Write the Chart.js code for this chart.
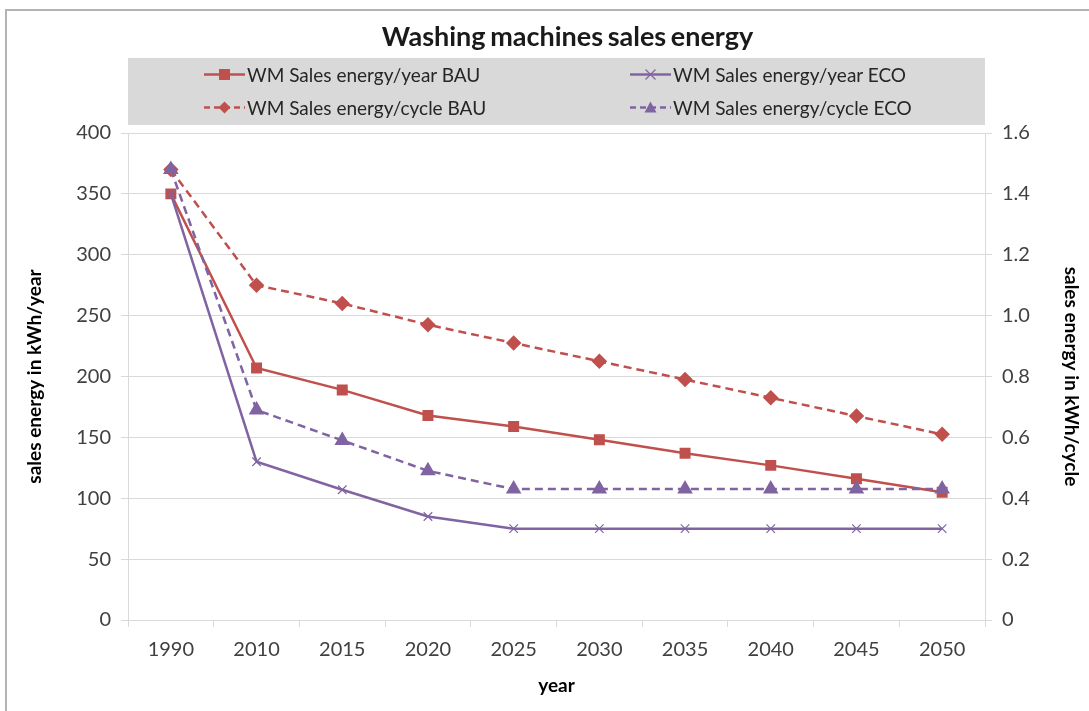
<!DOCTYPE html>
<html lang="en">
<head>
  <meta charset="UTF-8" />
  <title>Washing machines sales energy</title>
  <script src="https://cdn.jsdelivr.net/npm/chart.js"></script>
  <style>
    * { margin: 0; padding: 0; box-sizing: border-box; }
    body {
      width: 1089px;
      height: 711px;
      background: #fff;
      font-family: 'Lato', sans-serif;
      overflow: hidden;
    }
    .wrap {
      position: relative;
      width: 1089px;
      height: 711px;
    }
    .frame {
      position: absolute;
      left: 5px;
      top: 9px;
      width: 1200px;
      height: 800px;
      border: 2px solid #b3b3b3;
      pointer-events: none;
    }
    .title {
      position: absolute;
      left: 0;
      width: 1135px;
      top: 19px;
      text-align: center;
      font-size: 27px;
      font-weight: bold;
      color: #1a1a1a;
      word-spacing: -2px;
    }
    .legend {
      position: absolute;
      left: 128px;
      top: 58px;
      width: 857px;
      height: 67px;
      background: #d9d9d9;
    }
    .item {
      position: absolute;
      display: flex;
      align-items: center;
      font-size: 19px;
      color: #262626;
      white-space: nowrap;
    }
    .item svg { margin-right: 2px; }
  </style>
</head>
<body>
  <div class="wrap">
    <canvas id="chart" width="1089" height="711"></canvas>
    <div class="frame"></div>
    <div class="title">Washing machines sales energy</div>
    <div class="legend" id="legend"></div>
  </div>

  <script>
    // data
    const years = ['1990', '2010', '2015', '2020', '2025', '2030', '2035', '2040', '2045', '2050'];
    const bauYear = [350, 207, 189, 168, 159, 148, 137, 127, 116, 105];
    const ecoYear = [350, 130, 107, 85, 75, 75, 75, 75, 75, 75];
    const bauCycle = [1.48, 1.10, 1.04, 0.97, 0.91, 0.85, 0.79, 0.73, 0.67, 0.61];
    const ecoCycle = [1.48, 0.69, 0.59, 0.49, 0.43, 0.43, 0.43, 0.43, 0.43, 0.43];
    const leftTicks = [0, 50, 100, 150, 200, 250, 300, 350, 400];
    const rightTicks = [0, 0.2, 0.4, 0.6, 0.8, 1, 1.2, 1.4, 1.6];

    const RED = '#c0504d';
    const PURPLE = '#8064a2';
    const tickFont = { family: 'Lato', size: 20 };
    const titleFont = { family: 'Lato', size: 19, weight: 'bold' };
    const tickColor = '#404040';
    const gridColor = '#d9d9d9';

    const datasets = [
      {
        label: 'WM Sales energy/year BAU',
        data: bauYear, yAxisID: 'y',
        borderColor: RED, backgroundColor: RED,
        borderWidth: 2.5, pointStyle: 'rect', pointRadius: 6,
        order: 3
      },
      {
        label: 'WM Sales energy/year ECO',
        data: ecoYear, yAxisID: 'y',
        borderColor: PURPLE, backgroundColor: PURPLE,
        borderWidth: 2.5, pointStyle: 'crossRot', pointRadius: 6, pointBorderWidth: 1.2,
        order: 2
      },
      {
        label: 'WM Sales energy/cycle BAU',
        data: bauCycle, yAxisID: 'y1',
        borderColor: RED, backgroundColor: RED,
        borderWidth: 2.5, borderDash: [8, 5], pointStyle: 'rectRot', pointRadius: 6,
        order: 1
      },
      {
        label: 'WM Sales energy/cycle ECO',
        data: ecoCycle, yAxisID: 'y1',
        borderColor: PURPLE, backgroundColor: PURPLE,
        borderWidth: 2.5, borderDash: [8, 5], pointStyle: 'triangle', pointRadius: 6.5,
        order: 0
      }
    ];

    const PAD = { left: 10, right: 4, top: 133, bottom: 10 };

    new Chart(document.getElementById('chart'), {
      type: 'line',
      data: { labels: years, datasets: datasets },
      options: {
        responsive: false,
        animation: false,
        layout: { padding: PAD },
        plugins: {
          legend: { display: false },
          title: { display: false },
          tooltip: { enabled: false }
        },
        elements: { line: { tension: 0 } },
        scales: {
          x: {
            offset: true,
            grid: { offset: true, drawOnChartArea: false, color: gridColor, tickLength: 7 },
            border: { color: gridColor, width: 1 },
            ticks: { font: tickFont, color: tickColor, padding: 11 },
            title: { display: true, text: 'year', font: titleFont, color: '#000', padding: { top: 4 } },
            afterFit: s => { s.height = 711 - 620 - PAD.bottom; }
          },
          y: {
            position: 'left',
            min: 0, max: 400,
            afterBuildTicks: s => { s.ticks = leftTicks.map(v => ({ value: v })); },
            grid: { color: gridColor, tickLength: 7 },
            border: { color: gridColor },
            ticks: { font: tickFont, color: tickColor, padding: 10 },
            title: { display: true, text: 'sales energy in kWh/year', font: titleFont, color: '#000', padding: 13 },
            afterFit: s => { s.width = 128 - PAD.left; }
          },
          y1: {
            position: 'right',
            min: 0, max: 1.6,
            afterBuildTicks: s => { s.ticks = rightTicks.map(v => ({ value: v })); },
            grid: { drawOnChartArea: false, color: gridColor, tickLength: 7 },
            border: { color: gridColor },
            ticks: { font: tickFont, color: tickColor, padding: 10 },
            title: { display: true, text: 'sales energy in kWh/cycle', font: titleFont, color: '#000', padding: 2 },
            afterFit: s => { s.width = 1089 - 985 - PAD.right; }
          }
        }
      }
    });

    // legend in the grey box, two columns
    const legendPos = [
      { left: 76, top: 5 },
      { left: 502, top: 5 },
      { left: 76, top: 38 },
      { left: 502, top: 38 }
    ];

    function markerSvg(ds) {
      const c = ds.borderColor;
      const dash = ds.borderDash ? 'stroke-dasharray="6 4"' : '';
      let m = '';
      if (ds.pointStyle === 'rect') m = `<rect x="15" y="3" width="11" height="11" fill="${c}"/>`;
      if (ds.pointStyle === 'rectRot') m = `<polygon points="20.5,2.5 26.5,8.5 20.5,14.5 14.5,8.5" fill="${c}"/>`;
      if (ds.pointStyle === 'triangle') m = `<polygon points="20.5,2.5 26.5,13.5 14.5,13.5" fill="${c}"/>`;
      if (ds.pointStyle === 'crossRot') m = `<path d="M15.5 3.5 L25.5 13.5 M25.5 3.5 L15.5 13.5" stroke="${c}" stroke-width="1.2"/>`;
      return `<svg width="41" height="17"><line x1="0" y1="8.5" x2="41" y2="8.5" stroke="${c}" stroke-width="2.5" ${dash}/>${m}</svg>`;
    }

    const legend = document.getElementById('legend');
    datasets.forEach((ds, i) => {
      const el = document.createElement('div');
      el.className = 'item';
      el.style.left = legendPos[i].left + 'px';
      el.style.top = legendPos[i].top + 'px';
      el.innerHTML = markerSvg(ds) + '<span>' + ds.label + '</span>';
      legend.appendChild(el);
    });
  </script>
</body>
</html>
